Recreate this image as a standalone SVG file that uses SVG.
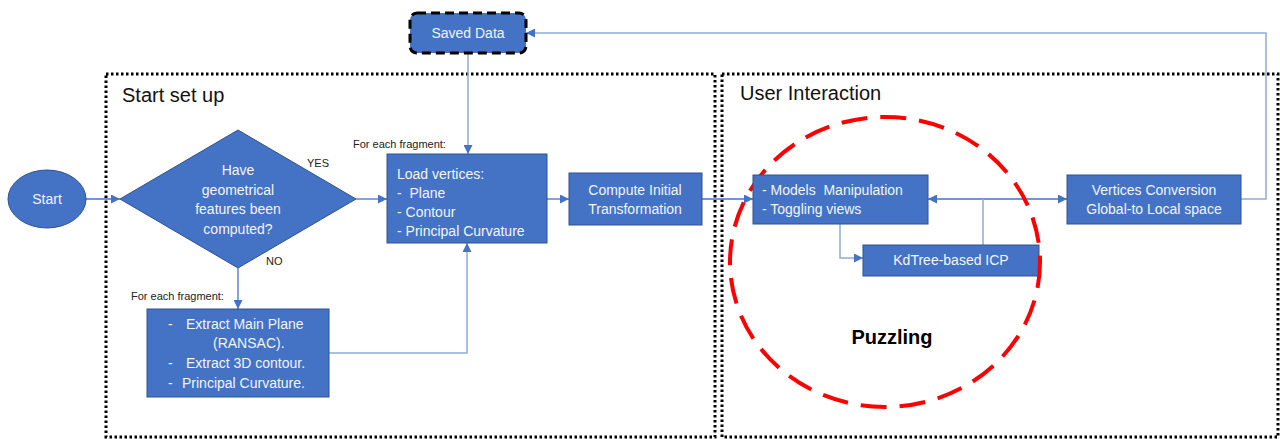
<svg xmlns="http://www.w3.org/2000/svg" width="1280" height="439" viewBox="0 0 1280 439">
<style>
.box{fill:#4472C4;stroke:#2F528F;stroke-width:1}
.t{font-family:"Liberation Sans",Arial,sans-serif;fill:#F2F5FB;font-size:14px;white-space:pre}
.tc{text-anchor:middle}
.lbl{font-family:"Liberation Sans",Arial,sans-serif;fill:#222;font-size:11px}
.title{font-family:"Liberation Sans",Arial,sans-serif;fill:#111;font-size:20px}
.frame{fill:none;stroke:#000;stroke-width:3;stroke-dasharray:2.5 2.5}
.ln{fill:none;stroke:#4472C4;stroke-width:1.3}
.ln2{fill:none;stroke:#8FAADC;stroke-width:1.5}
</style>
<defs>
<marker id="ah" viewBox="0 0 10 10" refX="10" refY="5" markerWidth="9" markerHeight="9" markerUnits="userSpaceOnUse" orient="auto-start-reverse">
<path d="M0,0 L10,5 L0,10 z" fill="#4472C4"/>
</marker>
</defs>
<rect width="1280" height="439" fill="#fff"/>
<g id="frames">
<rect class="frame" x="106" y="74" width="609" height="363"/>
<rect class="frame" x="722" y="74" width="556" height="363"/>
<text class="title" x="122" y="102">Start set up</text>
<text class="title" x="740" y="100">User Interaction</text>
</g>
<g id="connectors">
<line class="ln" x1="86" y1="199" x2="120" y2="199" marker-end="url(#ah)"/>
<line class="ln" x1="356" y1="199" x2="387" y2="199" marker-end="url(#ah)"/>
<line class="ln" x1="547" y1="199" x2="569" y2="199" marker-end="url(#ah)"/>
<line class="ln" x1="702" y1="199" x2="753" y2="199" marker-end="url(#ah)"/>
<line class="ln" x1="238" y1="268" x2="238" y2="309" marker-end="url(#ah)"/>
<line class="ln2" x1="468" y1="54" x2="468" y2="154" marker-end="url(#ah)"/>
<polyline class="ln2" points="329,353 467,353 467,243" marker-end="url(#ah)"/>
<polyline class="ln2" points="1241,199 1266,199 1266,33 526,33" marker-end="url(#ah)"/>
<line class="ln" x1="928" y1="199" x2="1067" y2="199" marker-start="url(#ah)" marker-end="url(#ah)"/>
<line class="ln2" x1="983" y1="199" x2="983" y2="245"/>
<polyline class="ln2" points="840,224 840,258 863,258" marker-end="url(#ah)"/>
</g>
<g id="start">
<ellipse class="box" cx="47" cy="199" rx="39" ry="29"/>
<text class="t tc" x="47" y="204">Start</text>
</g>
<g id="decision">
<polygon class="box" points="238,130 356,199 238,268 120,199"/>
<text class="t tc" x="238" y="175">Have</text>
<text class="t tc" x="238" y="195">geometrical</text>
<text class="t tc" x="238" y="214">features been</text>
<text class="t tc" x="238" y="234">computed?</text>
<text class="lbl" x="307" y="167">YES</text>
<text class="lbl" x="266" y="265">NO</text>
</g>
<g id="saved-data">
<rect x="410" y="13" width="116" height="40" rx="7" fill="#4472C4" stroke="#000" stroke-width="3" stroke-dasharray="9 5"/>
<text class="t tc" x="468" y="38">Saved Data</text>
</g>
<g id="load-vertices">
<text class="lbl" x="353" y="148">For each fragment:</text>
<rect class="box" x="387" y="154" width="160" height="89"/>
<text class="t" x="397" y="179">Load vertices:</text>
<text class="t" x="397" y="198">-  Plane</text>
<text class="t" x="397" y="217">- Contour</text>
<text class="t" x="397" y="236">- Principal Curvature</text>
</g>
<g id="extract">
<text class="lbl" x="131" y="300">For each fragment:</text>
<rect class="box" x="147" y="309" width="182" height="88"/>
<text class="t" x="168" y="329">-</text>
<text class="t" x="186" y="329">Extract Main Plane</text>
<text class="t" x="213" y="348">(RANSAC).</text>
<text class="t" x="168" y="368">-</text>
<text class="t" x="186" y="368">Extract 3D contour.</text>
<text class="t" x="168" y="388">-</text>
<text class="t" x="182" y="388">Principal Curvature.</text>
</g>
<g id="compute">
<rect class="box" x="569" y="173" width="133" height="52"/>
<text class="t tc" x="635" y="195">Compute Initial</text>
<text class="t tc" x="635" y="214">Transformation</text>
</g>
<g id="kdtree">
<rect class="box" x="863" y="245" width="176" height="31"/>
<text class="t tc" x="951" y="265">KdTree-based ICP</text>
</g>
<g id="puzzling">
<ellipse cx="885" cy="262" rx="155" ry="145" fill="none" stroke="#FF0000" stroke-width="4" stroke-dasharray="26 13"/>
<text x="892" y="344" text-anchor="middle" font-family="Liberation Sans, Arial, sans-serif" font-size="20" font-weight="bold" fill="#000">Puzzling</text>
</g>
<g id="models">
<rect class="box" x="753" y="175" width="175" height="49"/>
<text class="t" x="762" y="195">- Models  Manipulation</text>
<text class="t" x="762" y="214">- Toggling views</text>
</g>
<g id="vertices-conversion">
<rect class="box" x="1067" y="175" width="174" height="49"/>
<text class="t tc" x="1154" y="195">Vertices Conversion</text>
<text class="t tc" x="1154" y="214">Global-to Local space</text>
</g>
</svg>
